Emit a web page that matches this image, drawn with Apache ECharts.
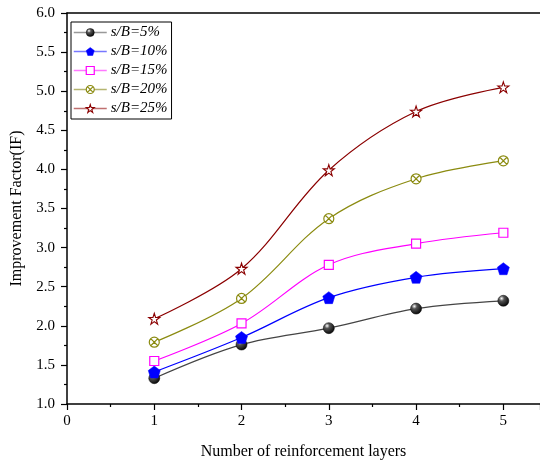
<!DOCTYPE html>
<html>
<head>
<meta charset="utf-8">
<script src="https://cdn.jsdelivr.net/npm/echarts@6/dist/echarts.min.js"></script>
<style>html,body{margin:0;padding:0;background:#fff}#c{width:540px;height:468px}</style>
</head>
<body>
<div id="c"></div>
<script>
var layers = [1, 2, 3, 4, 5];
var seriesNames = ['s/B=5%', 's/B=10%', 's/B=15%', 's/B=20%', 's/B=25%'];
var sb5  = [1.33, 1.76, 1.97, 2.22, 2.32];
var sb10 = [1.41, 1.85, 2.36, 2.62, 2.73];
var sb15 = [1.55, 2.03, 2.78, 3.05, 3.19];
var sb20 = [1.79, 2.35, 3.37, 3.88, 4.11];
var sb25 = [2.09, 2.73, 3.99, 4.74, 5.05];
var xTicks = [0, 1, 2, 3, 4, 5];

var FONT = '"Liberation Serif", "Times New Roman", serif';
function pairs(arr){ return layers.map(function(x,i){ return [x, arr[i]]; }); }

var pentagon = 'path://M50,0 L97.6,34.5 L79.4,90.5 L20.6,90.5 L2.4,34.5 Z';
var star = 'path://M50,0 L61.8,36.3 L100,36.3 L69.1,58.8 L80.9,95.1 L50,72.6 L19.1,95.1 L30.9,58.8 L0,36.3 L38.2,36.3 Z';
var circX = 'path://M50,2 A48,48 0 1,1 49.9,2 Z M16,16 L84,84 M84,16 L16,84';

var sphere = {
  type: 'radial', x: 0.35, y: 0.3, r: 0.75,
  colorStops: [{offset: 0, color: '#ffffff'}, {offset: 0.3, color: '#555'}, {offset: 1, color: '#000'}]
};

var defs = [
  {data: sb5,  line: '#444444', legendLine: '#999999', symbol: 'circle', size: 11, fill: sphere, border: '#000', bw: 0.5},
  {data: sb10, line: '#0000ff', legendLine: '#7777ff', symbol: pentagon, size: 12, fill: '#0000ff', border: '#0000ff', bw: 0.5},
  {data: sb15, line: '#ff00ff', legendLine: '#ff77ff', symbol: 'rect', size: 9, fill: '#ffffff', border: '#ff00ff', bw: 1.2},
  {data: sb20, line: '#8b8b10', legendLine: '#b5b570', symbol: circX, size: 10, fill: '#ffffff', border: '#8b8b10', bw: 1.2},
  {data: sb25, line: '#8b0000', legendLine: '#c07070', symbol: star, size: 11, fill: '#ffffff', border: '#8b0000', bw: 1.1}
];

var series = defs.map(function(d, i){
  return {
    name: seriesNames[i],
    type: 'line',
    xAxisIndex: 0,
    smooth: 0.35,
    data: pairs(d.data),
    symbol: d.symbol,
    symbolSize: d.size,
    showAllSymbol: true,
    lineStyle: {color: d.line, width: 1.2},
    itemStyle: {color: d.fill, borderColor: d.border, borderWidth: d.bw, opacity: 1},
    emphasis: {disabled: true},
    z: 2 + i
  };
});

var chart = echarts.init(document.getElementById('c'), null, {renderer: 'canvas'});
chart.setOption({
  animation: false,
  backgroundColor: '#fff',
  grid: {left: 67, top: 13, bottom: 64, right: 0, show: false},
  legend: {
    data: seriesNames.map(function(n, i){
      var d = defs[i];
      return {name: n, lineStyle: {color: d.legendLine, width: 1.5},
        itemStyle: {color: d.fill, borderColor: d.border, borderWidth: d.bw}};
    }),
    orient: 'vertical',
    left: 71, top: 22,
    itemWidth: 33, itemHeight: 10, itemGap: 4,
    padding: [3, 4, 3, 2],
    borderColor: '#000', borderWidth: 1,
    textStyle: {fontFamily: FONT, fontStyle: 'italic', fontSize: 15, lineHeight: 14, color: '#000', padding: [0, 0, 0, -1]}
  },
  xAxis: [{
    type: 'value', min: 0, max: 5.42, interval: 1,
    name: 'Number of reinforcement layers',
    nameLocation: 'middle', nameGap: 40,
    nameTextStyle: {fontFamily: FONT, fontSize: 16, color: '#000'},
    axisLine: {show: true, onZero: false, lineStyle: {color: '#000', width: 1.5}},
    axisTick: {show: true, inside: false, length: 6, lineStyle: {color: '#000', width: 1.2}},
    minorTick: {show: true, splitNumber: 2, length: 3, lineStyle: {color: '#000', width: 1.2}},
    splitLine: {show: false},
    axisLabel: {
      fontFamily: FONT, fontSize: 15, color: '#000', margin: 10, showMaxLabel: false,
      formatter: function(v){ return xTicks.indexOf(v) >= 0 ? String(v) : ''; }
    }
  }, {
    type: 'value', position: 'top', min: 0, max: 5.42,
    axisLine: {show: true, onZero: false, lineStyle: {color: '#000', width: 1.5}},
    axisTick: {show: false}, axisLabel: {show: false}, splitLine: {show: false}
  }],
  yAxis: {
    type: 'value', min: 1, max: 6, interval: 0.5,
    name: 'Improvement Factor(IF)',
    nameLocation: 'middle', nameGap: 42,
    nameTextStyle: {fontFamily: FONT, fontSize: 16, color: '#000'},
    axisLine: {show: true, onZero: false, lineStyle: {color: '#000', width: 1.5}},
    axisTick: {show: true, inside: false, length: 6, lineStyle: {color: '#000', width: 1.2}},
    minorTick: {show: true, splitNumber: 2, length: 3, lineStyle: {color: '#000', width: 1.2}},
    splitLine: {show: false},
    axisLabel: {fontFamily: FONT, fontSize: 15, color: '#000', margin: 12, formatter: function(v){ return v.toFixed(1); }}
  },
  series: series
});
</script>
</body>
</html>
